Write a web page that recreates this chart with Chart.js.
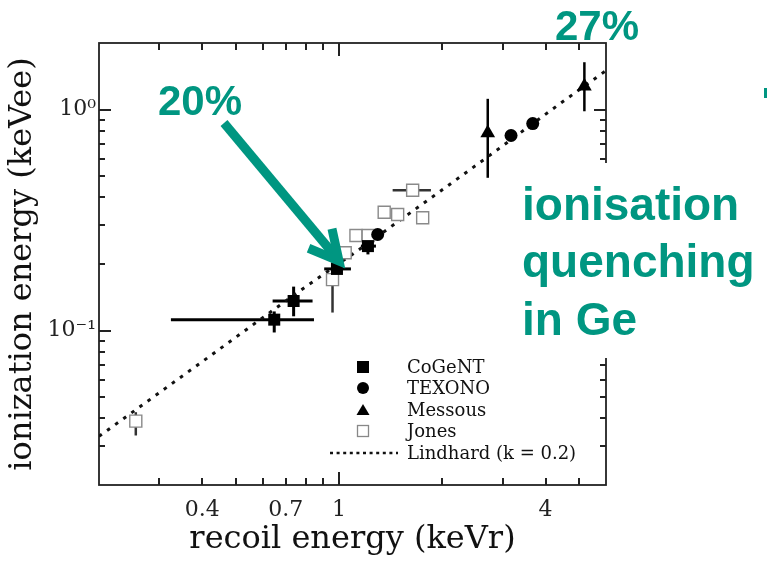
<!DOCTYPE html>
<html>
<head>
<meta charset="utf-8">
<script src="https://cdn.jsdelivr.net/npm/chart.js@4/dist/chart.umd.min.js"></script>
<style>
  html, body { margin: 0; padding: 0; background: #fff; }
  #wrap { width: 767px; height: 562px; }
</style>
</head>
<body>
<div id="wrap"><canvas id="chart" width="767" height="562"></canvas></div>
<script>
// values (keVr on x, keVee on y)
const cogentX = [0.648, 0.738, 0.987, 1.215];
const cogentY = [0.112, 0.136, 0.190, 0.241];
const cogentXLo = [0.324, 0.641, 0.906, 1.159];
const cogentXHi = [0.846, 0.838, 1.084, 1.282];
const cogentYLo = [0.098, 0.116, 0.176, 0.221];
const cogentYHi = [0.122, 0.158, 0.214, 0.258];

const texonoX = [1.297, 3.173, 3.67];
const texonoY = [0.272, 0.763, 0.864];

const messousX = [2.714, 5.19];
const messousY = [0.784, 1.275];
const messousYLo = [0.491, 0.982];
const messousYHi = [1.118, 1.637];

const jonesX = [0.256, 0.958, 1.043, 1.121, 1.217, 1.355, 1.483, 1.640, 1.754];
const jonesY = [0.0389, 0.170, 0.225, 0.269, 0.269, 0.343, 0.335, 0.431, 0.324];
const jonesXLo = [null, null, null, null, null, null, null, 1.434, null];
const jonesXHi = [null, null, null, null, null, null, null, 1.854, null];
const jonesYLo = [0.0335, 0.1206, null, null, null, null, null, null, null];
const jonesYHi = [0.0427, 0.215, null, null, null, null, null, null, null];

const lindhardX = [0.2, 0.414, 0.766, 1.146, 1.974, 2.714, 4.438, 6.0];
const lindhardY = [0.0332, 0.0752, 0.1506, 0.2326, 0.427, 0.611, 1.072, 1.50];

const seriesNames = ['CoGeNT', 'TEXONO', 'Messous', 'Jones', 'Lindhard (k = 0.2)'];

const xTickMarks = [0.3, 0.4, 0.5, 0.6, 0.7, 0.8, 0.9, 1, 2, 3, 4, 5];
const xTickLabels = [0.4, 0.7, 1, 4];
const yTickMarks = [0.03, 0.04, 0.05, 0.06, 0.07, 0.08, 0.09, 0.1, 0.2, 0.3, 0.4, 0.5, 0.6, 0.7, 0.8, 0.9, 1];
const yTickLabels = [0.1, 1];
const yTickText = ['10\u207B\u00B9', '10\u2070'];

const TEAL = '#009681';
const SERIF = '"DejaVu Serif", serif';

function pts(xs, ys) {
  return xs.map((x, i) => ({ x: x, y: ys[i] }));
}

function line(ctx, x1, y1, x2, y2) {
  ctx.beginPath();
  ctx.moveTo(x1, y1);
  ctx.lineTo(x2, y2);
  ctx.stroke();
}

// frame on four sides with inward ticks
const frameTicks = {
  id: 'frameTicks',
  beforeDatasetsDraw(chart) {
    const { ctx, chartArea: a, scales: { x, y } } = chart;
    ctx.save();
    ctx.strokeStyle = '#222';
    ctx.lineWidth = 1.8;
    ctx.strokeRect(a.left, a.top, a.right - a.left, a.bottom - a.top);
    ctx.lineWidth = 2;
    xTickMarks.forEach(v => {
      const px = Math.round(x.getPixelForValue(v));
      const len = v === 1 ? 13 : 7;
      line(ctx, px, a.bottom, px, a.bottom - len);
      line(ctx, px, a.top, px, a.top + len);
    });
    yTickMarks.forEach(v => {
      const py = Math.round(y.getPixelForValue(v));
      const len = (v === 1 || v === 0.1) ? 12 : 6;
      line(ctx, a.left, py, a.left + len, py);
      line(ctx, a.right, py, a.right - len, py);
    });
    ctx.restore();
  }
};

// error bars from the dataset's own bound arrays
const errorBars = {
  id: 'errorBars',
  beforeDatasetsDraw(chart) {
    const { ctx, scales: { x, y } } = chart;
    ctx.save();
    ctx.beginPath();
    ctx.rect(chart.chartArea.left, chart.chartArea.top, chart.chartArea.width, chart.chartArea.height);
    ctx.clip();
    chart.data.datasets.forEach(ds => {
      const e = ds.errorBars;
      if (!e) return;
      ctx.strokeStyle = e.color;
      ctx.lineWidth = e.width;
      ds.data.forEach((p, i) => {
        const px = x.getPixelForValue(p.x);
        const py = y.getPixelForValue(p.y);
        if (e.xLo && e.xLo[i] != null) {
          line(ctx, x.getPixelForValue(e.xLo[i]), py, x.getPixelForValue(e.xHi[i]), py);
        }
        if (e.yLo && e.yLo[i] != null) {
          line(ctx, px, y.getPixelForValue(e.yLo[i]), px, y.getPixelForValue(e.yHi[i]));
        }
      });
    });
    ctx.restore();
  }
};

// legend inside the frame + the slide annotations
const overlay = {
  id: 'overlay',
  afterDraw(chart) {
    const { ctx } = chart;
    ctx.save();

    // legend
    const symX = 363, txtX = 407, rowY = [367, 388, 410, 431, 453];
    ctx.font = '18px ' + SERIF;
    ctx.fillStyle = '#111';
    ctx.textBaseline = 'middle';
    ctx.textAlign = 'left';
    seriesNames.forEach((n, i) => ctx.fillText(n, txtX, rowY[i] + 1));
    ctx.fillStyle = '#000';
    ctx.fillRect(symX - 6, rowY[0] - 6, 12, 12);
    ctx.beginPath();
    ctx.arc(symX, rowY[1], 6, 0, Math.PI * 2);
    ctx.fill();
    ctx.beginPath();
    ctx.moveTo(symX, rowY[2] - 6);
    ctx.lineTo(symX + 6.5, rowY[2] + 5);
    ctx.lineTo(symX - 6.5, rowY[2] + 5);
    ctx.closePath();
    ctx.fill();
    ctx.strokeStyle = '#888';
    ctx.lineWidth = 1.3;
    ctx.strokeRect(symX - 5.5, rowY[3] - 5.5, 11, 11);
    ctx.strokeStyle = '#111';
    ctx.lineWidth = 2.5;
    ctx.setLineDash([3, 3.6]);
    line(ctx, 330, rowY[4], 398, rowY[4]);
    ctx.setLineDash([]);

    // white box behind the side text
    ctx.fillStyle = '#fff';
    ctx.fillRect(515, 163, 252, 195);

    ctx.fillStyle = TEAL;
    ctx.font = 'bold 46px "Liberation Sans", Arial, sans-serif';
    ctx.textBaseline = 'alphabetic';
    ctx.fillText('ionisation', 522, 220);
    ctx.fillText('quenching', 522, 277);
    ctx.fillText('in Ge', 522, 335);

    ctx.font = 'bold 42px "Liberation Sans", Arial, sans-serif';
    ctx.fillText('20%', 158, 115);
    ctx.fillText('27%', 555, 40);
    ctx.fillRect(764, 88, 3, 10);

    // arrow
    ctx.strokeStyle = TEAL;
    ctx.lineWidth = 9;
    ctx.lineCap = 'butt';
    const x0 = 224, y0 = 123, x1 = 339, y1 = 261;
    line(ctx, x0, y0, x1 - 3, y1 - 4);
    const ang = Math.atan2(y1 - y0, x1 - x0);
    const arm = 33, spread = 0.48;
    ctx.lineJoin = 'miter';
    ctx.beginPath();
    ctx.moveTo(x1 - arm * Math.cos(ang - spread), y1 - arm * Math.sin(ang - spread));
    ctx.lineTo(x1, y1);
    ctx.lineTo(x1 - arm * Math.cos(ang + spread), y1 - arm * Math.sin(ang + spread));
    ctx.stroke();

    ctx.restore();
  }
};

new Chart(document.getElementById('chart'), {
  type: 'scatter',
  data: {
    datasets: [
      {
        label: seriesNames[0],
        data: pts(cogentX, cogentY),
        pointStyle: 'rect',
        pointRadius: 8.5,
        backgroundColor: '#000',
        borderColor: '#000',
        borderWidth: 0,
        errorBars: { xLo: cogentXLo, xHi: cogentXHi, yLo: cogentYLo, yHi: cogentYHi, color: '#000', width: 3 }
      },
      {
        label: seriesNames[1],
        data: pts(texonoX, texonoY),
        pointStyle: 'circle',
        pointRadius: 6.5,
        backgroundColor: '#000',
        borderColor: '#000',
        borderWidth: 0
      },
      {
        label: seriesNames[2],
        data: pts(messousX, messousY),
        pointStyle: 'triangle',
        pointRadius: 8.5,
        backgroundColor: '#000',
        borderColor: '#000',
        borderWidth: 0,
        errorBars: { yLo: messousYLo, yHi: messousYHi, color: '#000', width: 2.5 }
      },
      {
        label: seriesNames[3],
        data: pts(jonesX, jonesY),
        pointStyle: 'rect',
        pointRadius: 8.5,
        backgroundColor: '#fff',
        borderColor: '#8a8a8a',
        borderWidth: 1.4,
        errorBars: { xLo: jonesXLo, xHi: jonesXHi, yLo: jonesYLo, yHi: jonesYHi, color: '#333', width: 2.5 }
      },
      {
        label: seriesNames[4],
        data: pts(lindhardX, lindhardY),
        showLine: true,
        pointRadius: 0,
        borderColor: '#111',
        borderWidth: 3,
        borderDash: [3.5, 6.5],
        fill: false
      }
    ]
  },
  options: {
    responsive: false,
    devicePixelRatio: 1,
    animation: false,
    events: [],
    layout: { padding: { top: 43, right: 161, left: 0, bottom: 0 } },
    plugins: {
      legend: { display: false },
      tooltip: { enabled: false }
    },
    scales: {
      x: {
        type: 'logarithmic',
        min: 0.2,
        max: 6,
        afterFit: scale => { scale.height = 77; },
        afterBuildTicks: scale => { scale.ticks = xTickLabels.map(v => ({ value: v })); },
        grid: { display: false, drawTicks: false },
        border: { display: false },
        ticks: {
          autoSkip: false,
          maxRotation: 0,
          padding: 12,
          color: '#222',
          font: { family: SERIF, size: 22 },
          callback: v => String(v)
        },
        title: {
          display: true,
          text: 'recoil energy (keVr)',
          color: '#111',
          padding: { top: 3, bottom: 3 },
          font: { family: SERIF, size: 32 }
        }
      },
      y: {
        type: 'logarithmic',
        min: 0.02,
        max: 2,
        afterFit: scale => { scale.width = 99; },
        afterBuildTicks: scale => { scale.ticks = yTickLabels.map(v => ({ value: v })); },
        grid: { display: false, drawTicks: false },
        border: { display: false },
        ticks: {
          autoSkip: false,
          padding: 3,
          color: '#222',
          font: { family: SERIF, size: 22 },
          callback: v => yTickText[yTickLabels.indexOf(v)]
        },
        title: {
          display: true,
          text: 'ionization energy (keVee)',
          color: '#111',
          padding: { top: 3, bottom: 3 },
          font: { family: SERIF, size: 32 }
        }
      }
    }
  },
  plugins: [frameTicks, errorBars, overlay]
});
</script>
</body>
</html>
